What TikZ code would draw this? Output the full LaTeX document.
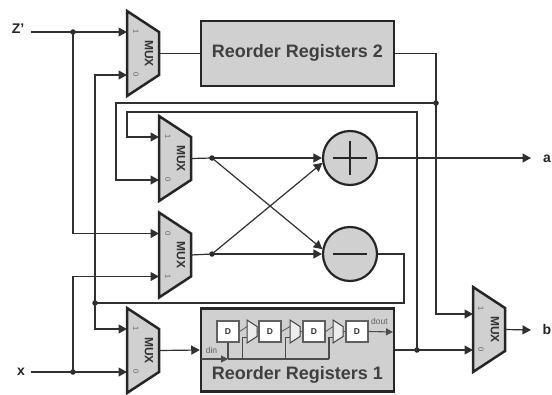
\documentclass[tikz,border=0pt]{standalone}
\usepackage{fontspec}
\setmainfont{Liberation Sans}
\usetikzlibrary{arrows.meta,calc}
\definecolor{blockgray}{HTML}{D0D0D0}
\definecolor{wirec}{HTML}{303030}
\definecolor{faint}{HTML}{606060}
\tikzset{
  wire/.style={draw=wirec,line width=1.2pt},
  arr/.style={wire,-{Triangle[length=8.5pt,width=9pt]}},
  muxbody/.style={draw=black!85,fill=blockgray,line width=2.5pt,line join=miter},
  regbox/.style={draw=black!85,fill=blockgray,line width=2.5pt,minimum width=193pt,inner sep=0pt},
  regtext/.style={font=\bfseries\fontsize{18}{18}\selectfont,text=black!75,inner sep=0pt},
  muxtext/.style={font=\bfseries\fontsize{12}{12}\selectfont,text=black!80,rotate=-90,inner sep=0pt},
  pinlab/.style={font=\fontsize{7.5}{7.5}\selectfont,text=faint,rotate=-90,inner sep=0pt},
  iolab/.style={font=\bfseries\fontsize{14}{14}\selectfont,text=black!85,inner sep=0pt},
  opcircle/.style={circle,draw=black!85,fill=blockgray,line width=2.2pt,minimum size=54pt,inner sep=0pt},
  junction/.style={circle,fill=black!85,minimum size=5.5pt,inner sep=0pt},
  dbox/.style={draw=faint,fill=white,line width=1.3pt,minimum width=22pt,minimum height=21pt,inner sep=0pt,font=\bfseries\fontsize{8.5}{8.5}\selectfont,text=black!80},
  smallmux/.style={draw=black!75,fill=blockgray!40,line width=1pt},
  tinytext/.style={font=\fontsize{8.5}{8.5}\selectfont,text=faint,inner sep=0pt},
  innerwire/.style={draw=black!70,line width=1.1pt},
  innerarr/.style={innerwire,-{Triangle[length=7pt,width=7pt]}},
}
% name, left x, centre y, top label, bottom label
\newcommand{\muxblock}[5]{%
  \draw[muxbody] (#2,#3-42.5) -- (#2+32,#3-21.5) -- (#2+32,#3+21.5) -- (#2,#3+42.5) -- cycle;
  \coordinate (#1-t) at (#2,#3-21.5);
  \coordinate (#1-b) at (#2,#3+21.5);
  \coordinate (#1-o) at (#2+32,#3);
  \node[muxtext] (#1-lab) at (#2+22,#3) {MUX};
  \node[pinlab] (#1-pt) at (#2+9,#3-21.5) {#4};
  \node[pinlab] (#1-pb) at (#2+9,#3+21.5) {#5};
}
\newcommand{\tinymux}[3]{%
  \draw[smallmux] (#2,#3-11.5) -- (#2+10,#3-5) -- (#2+10,#3+5) -- (#2,#3+11.5) -- cycle;
  \coordinate (#1-t) at (#2,#3-5);
  \coordinate (#1-b) at (#2,#3+6);
  \coordinate (#1-o) at (#2+10,#3);
}
\begin{document}
\begin{tikzpicture}[x=1pt,y=-1pt]
\useasboundingbox (0,0) rectangle (552,394);

% terminals and routing points
\node[iolab] (zin) at (18,29) {Z'};
\node[iolab] (xin) at (21,372) {x};
\node[iolab] (aout) at (547,159) {a};
\node[iolab] (bout) at (547,329) {b};
\coordinate (zs) at (31,32);
\coordinate (xs) at (31,372);
\coordinate (ae) at (531,158);
\coordinate (be) at (531,330);
\coordinate (mbone) at (473,314);
\coordinate (mbzero) at (473,350);

% blocks
\muxblock{m1}{127}{53.5}{1}{0}
\muxblock{m2}{159}{158.5}{1}{0}
\muxblock{m3}{159}{255}{0}{1}
\muxblock{m4}{127}{350.5}{1}{0}
\muxblock{mb}{473}{329.5}{}{}
\node[pinlab] (mbpt) at (481,309) {1};
\node[pinlab] (mbpb) at (481,350) {0};
\node[regbox,minimum height=65pt] (rr2) at (297.5,53.5) {};
\node[regtext] (rr2t) at (297.5,53) {Reorder Registers 2};
\node[regbox,minimum height=83pt] (rr1) at (297.5,350) {};
\node[regtext] (rr1t) at (297.5,375) {Reorder Registers 1};
\node[opcircle] (plus) at (350,158) {};
\node[opcircle] (minus) at (350,254) {};
\draw[line width=2pt,draw=black!85] (plus.center) ++(-17,0) -- ++(34,0);
\draw[line width=2pt,draw=black!85] (plus.center) ++(0,-17) -- ++(0,34);
\draw[line width=2pt,draw=black!85] (minus.center) ++(-17,0) -- ++(34,0);

% junctions
\node[junction] (jz) at (73,32) {};
\node[junction] (jx) at (73,372) {};
\node[junction] (jfb) at (95,303) {};
\node[junction] (jr2) at (436,103) {};
\node[junction] (jr1) at (417,350) {};
\node[junction] (j2) at (212,158) {};
\node[junction] (j3) at (212,254) {};

% top-level wires
\draw[arr] (zs) -- (m1-t);
\draw[arr] (jz.center) |- (m3-t);
\draw[arr] (xs) -- (m4-b);
\draw[arr] (jx.center) |- (m3-b);
\draw[arr] (jfb.center) |- (m4-t);
\draw[arr] (jfb.center) |- (m1-b);
\draw[wire] (m1-o) -- (rr2.west);
\draw[wire] (rr2.east) -| (jr2.center);
\draw[arr] (jr2.center) |- (mbone);
\draw[arr] (jr2.center) -- (116,103) |- (m2-b);
\draw[arr] (jr1.center) -- (417,112) -- (127,112) |- (m2-t);
\draw[arr] (rr1.east) -- (jr1.center) -- (mbzero);
\draw[wire] (m2-o) -- (j2.center);
\draw[wire] (m3-o) -- (j3.center);
\draw[arr] (j2.center) -- (plus.west);
\draw[arr] (j3.center) -- (minus.west);
\draw[arr] (j2.center) -- (minus.170);
\draw[arr] (j3.center) -- (plus.190);
\draw[arr] (plus.east) -- (ae);
\draw[wire] (minus.east) -- (404,254) -- (404,303) -- (jfb.center);
\draw[arr] (mb-o) -- (be);
\draw[arr] (m4-o) -- (rr1.west);

% inside Reorder Registers 1
\node[dbox] (d1) at (228,331.5) {D};
\node[dbox] (d2) at (270,331.5) {D};
\node[dbox] (d3) at (314,331.5) {D};
\node[dbox] (d4) at (357,331.5) {D};
\tinymux{s1}{247}{331.5}
\tinymux{s2}{290}{331.5}
\tinymux{s3}{333}{331.5}
\draw[innerwire,line width=.7pt] (d1.east) -- (s1-t);
\draw[innerwire,line width=.7pt] (s1-o) -- (d2.west);
\draw[innerwire,line width=.7pt] (d2.east) -- (s2-t);
\draw[innerwire,line width=.7pt] (s2-o) -- (d3.west);
\draw[innerwire,line width=.7pt] (d3.east) -- (s3-t);
\draw[innerwire,line width=.7pt] (s3-o) -- (d4.west);
\coordinate (bs) at (201,359);
\coordinate (be2) at (329,359);
\coordinate (bt) at (228,359);
\draw[innerarr] (bs) -- (bt);
\draw[innerwire] (bt) -- (be2);
\draw[innerwire] (d1.south) -- (bt);
\draw[innerwire] (be2) -- (329,337.5) -- (s3-b);
\draw[innerwire] (285.5,359) -- (285.5,337.5) -- (s2-b);
\draw[innerwire] (242.5,359) -- (242.5,337.5) -- (s1-b);
\coordinate (dr) at (393,332);
\draw[innerarr] (d4.east) -- (dr);
\node[tinytext] (din) at (211.5,350) {din};
\node[tinytext] (dout) at (379.5,321) {dout};
\end{tikzpicture}
\end{document}
